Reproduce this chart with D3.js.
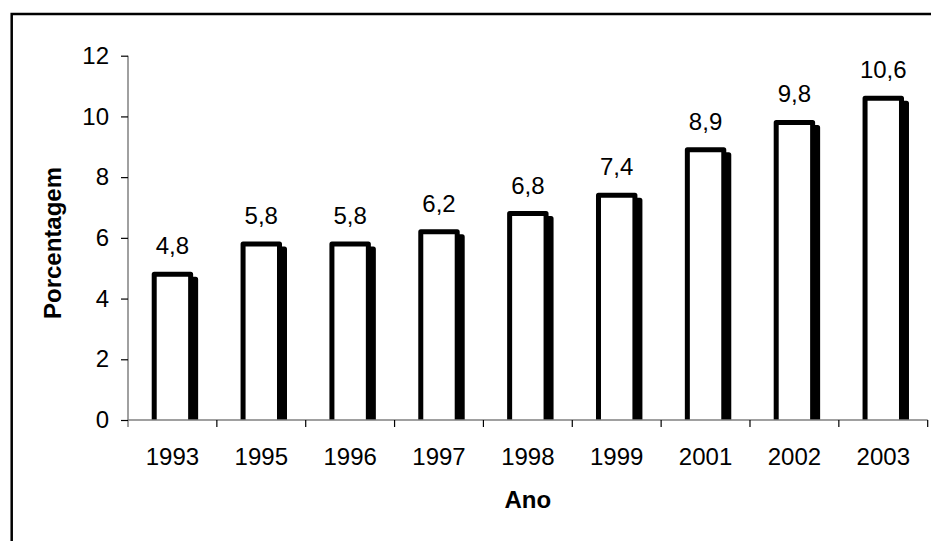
<!DOCTYPE html>
<html>
<head>
<meta charset="utf-8">
<script src="https://cdn.jsdelivr.net/npm/d3@7"></script>
<style>
  body { margin: 0; background: #fff; }
  text { font-family: "Liberation Sans", Arial, sans-serif; fill: #000; }
</style>
</head>
<body>
<svg id="chart" width="931" height="541"></svg>
<script>
// data
const years = ["1993", "1995", "1996", "1997", "1998", "1999", "2001", "2002", "2003"];
const percents = [4.8, 5.8, 5.8, 6.2, 6.8, 7.4, 8.9, 9.8, 10.6];
const yTicks = [0, 2, 4, 6, 8, 10, 12];

const svg = d3.select("#chart");
const margin = { left: 128, right: 3.3, top: 55.7, bottom: 121 };
const W = 931, H = 541;

// outer frame (runs off the right/bottom edge like the source)
svg.append("rect")
    .attr("x", 11.7).attr("y", 14)
    .attr("width", 940).attr("height", 560)
    .attr("fill", "none").attr("stroke", "#000").attr("stroke-width", 2.5);

const x = d3.scaleBand()
    .domain(years)
    .range([margin.left, W - margin.right])
    .paddingInner(0).paddingOuter(0);

const y = d3.scaleLinear()
    .domain([0, 12])
    .range([H - margin.bottom, margin.top]);

const bw = x.bandwidth() * 0.41;
const shadowOff = 5;

svg.append("clipPath").attr("id", "plotclip")
  .append("rect")
    .attr("x", 0).attr("y", 0)
    .attr("width", W).attr("height", y(0));

const bars = svg.append("g").attr("clip-path", "url(#plotclip)")
    .selectAll("g")
    .data(years.map((d, i) => ({ year: d, v: percents[i] })))
    .enter().append("g");

// shadow
bars.append("rect")
    .attr("x", d => x(d.year) + x.bandwidth() / 2 - bw / 2 + shadowOff)
    .attr("y", d => y(d.v) + shadowOff)
    .attr("width", bw)
    .attr("height", d => y(0) - y(d.v) + 10)
    .attr("fill", "#000").attr("stroke", "#000")
    .attr("stroke-width", 5).attr("stroke-linejoin", "round");

bars.append("rect")
    .attr("x", d => x(d.year) + x.bandwidth() / 2 - bw / 2)
    .attr("y", d => y(d.v))
    .attr("width", bw)
    .attr("height", d => y(0) - y(d.v) + 10)
    .attr("fill", "#fff").attr("stroke", "#000")
    .attr("stroke-width", 5).attr("stroke-linejoin", "round");

// value labels
svg.append("g").selectAll("text")
    .data(years.map((d, i) => ({ year: d, v: percents[i] })))
    .enter().append("text")
    .attr("x", d => x(d.year) + x.bandwidth() / 2)
    .attr("y", d => y(d.v) - 20)
    .attr("text-anchor", "middle")
    .style("font-size", "24px")
    .text(d => String(d.v).replace(".", ","));

// y axis
const yAxis = svg.append("g")
    .attr("transform", `translate(${margin.left},0)`)
    .call(d3.axisLeft(y).tickValues(yTicks).tickSize(7).tickPadding(12));
yAxis.select(".domain").attr("stroke", "#808080").attr("stroke-width", 1.5)
    .attr("d", `M0,${y(12)}V${y(0) + 7}`);
yAxis.selectAll(".tick line").attr("stroke", "#000").attr("stroke-width", 1.2);
yAxis.selectAll(".tick text")
    .style("font-size", "24px")
    .style("font-family", "'Liberation Sans', Arial, sans-serif")
    .attr("fill", "#000");

// x axis
const xAxis = svg.append("g")
    .attr("transform", `translate(0,${y(0)})`)
    .call(d3.axisBottom(x).tickSize(0).tickPadding(28));
xAxis.select(".domain").attr("stroke", "#808080").attr("stroke-width", 1.5)
    .attr("d", `M${margin.left},0H${W - margin.right}`);
xAxis.selectAll(".tick text")
    .style("font-size", "24px")
    .style("font-family", "'Liberation Sans', Arial, sans-serif")
    .attr("fill", "#000");

// category separators on the x axis
svg.append("g").selectAll("line")
    .data(years.slice(1).concat(["end"]))
    .enter().append("line")
    .attr("x1", d => d === "end" ? W - margin.right : x(d))
    .attr("x2", d => d === "end" ? W - margin.right : x(d))
    .attr("y1", y(0)).attr("y2", y(0) + 7)
    .attr("stroke", "#000").attr("stroke-width", 1.2);

// axis titles
svg.append("text")
    .attr("x", (margin.left + W - margin.right) / 2)
    .attr("y", 508)
    .attr("text-anchor", "middle")
    .style("font-size", "24px").style("font-weight", "bold")
    .text("Ano");

svg.append("text")
    .attr("transform", "translate(61,243) rotate(-90)")
    .attr("text-anchor", "middle")
    .style("font-size", "24px").style("font-weight", "bold")
    .text("Porcentagem");
</script>
</body>
</html>
